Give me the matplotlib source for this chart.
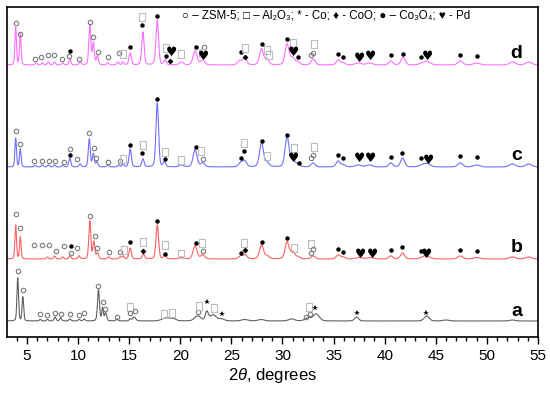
import numpy as np
import matplotlib
matplotlib.use("Agg")
import matplotlib.pyplot as plt
from matplotlib.ticker import MultipleLocator

plt.rcParams['font.family'] = ['Liberation Sans', 'DejaVu Sans']
plt.rcParams['mathtext.fontset'] = 'custom'
plt.rcParams['mathtext.rm'] = 'Liberation Sans'
plt.rcParams['mathtext.it'] = 'Liberation Sans:italic'

samples = ['a', 'b', 'c', 'd']
offsets = [16, 78, 170, 272]
colors = ['#606060', '#ff6060', '#7070ff', '#ff70ff']

# peaks: (2theta, height, half width)
peaks_a = [(4.1, 43, .08), (4.6, 24, .08), (6.3, 1.5, .1), (7.0, 1.5, .1), (7.75, 4, .1),
           (8.3, 3, .1), (9.2, 2, .1), (10.1, 1.5, .1), (10.6, 2, .1), (12.0, 31, .1),
           (12.4, 13, .08), (12.7, 8, .1), (13.8, 2, .1), (15.1, 2, .1), (15.5, 4, .15),
           (18.6, 3, .4), (19.3, 2, .3), (21.7, 5, .3), (22.6, 9, .15), (23.2, 6, .3),
           (24.0, 2, .3), (26.3, 1.5, .3), (27.9, 1.5, .3), (30.9, 2, .3), (32.5, 3, .3),
           (33.3, 7, .3), (37.25, 4, .2), (44.1, 5, .25), (46.0, 1, .3), (52.5, 1, .3)]
peaks_b = [(3.9, 34, .08), (4.35, 22, .08), (7.0, 2, .1), (7.7, 3, .1), (8.5, 2, .1),
           (9.2, 3, .1), (10.1, 3, .1), (11.15, 38, .1), (11.55, 17, .1), (11.9, 6, .1),
           (13.0, 2, .1), (14.1, 2, .1), (14.4, 3, .1), (15.1, 11, .12), (16.4, 5, .12),
           (17.75, 34, .13), (18.5, 4, .12), (20.1, 2, .2), (21.45, 13, .2), (22.2, 4, .2),
           (25.9, 3, .2), (26.35, 4, .2), (27.95, 14, .2), (28.5, 3, .2), (30.45, 17, .2),
           (31.0, 7, .2), (31.5, 2, .2), (33.0, 3, .2), (35.45, 4, .2), (35.95, 2, .2),
           (37.5, 1.5, .3), (38.6, 1.5, .3), (40.6, 3, .2), (41.75, 6, .2), (43.8, 2, .3),
           (44.2, 2, .3), (47.4, 3, .25), (49.0, 1.5, .3), (52.5, 2, .3), (54.1, 2, .3)]
peaks_c = [(3.9, 29, .08), (4.35, 18, .08), (5.8, 1.5, .1), (6.5, 2, .1), (7.1, 2, .1),
           (7.7, 2, .1), (8.5, 1.5, .1), (9.2, 9, .1), (10.2, 3, .1), (11.1, 28, .1),
           (11.5, 13, .1), (11.85, 5, .1), (12.9, 2, .1), (14.0, 2, .1), (14.4, 3, .1),
           (15.1, 18, .12), (16.35, 8, .12), (17.75, 64, .13), (18.45, 5, .12), (20.1, 2, .2),
           (21.45, 17, .2), (22.2, 4, .2), (25.9, 4, .2), (26.3, 6, .2), (27.95, 24, .2),
           (28.5, 4, .2), (30.45, 30, .2), (31.0, 7, .2), (31.5, 3, .2), (33.0, 4, .2),
           (35.45, 6, .2), (35.95, 2, .2), (37.4, 2, .3), (38.5, 2, .3), (40.6, 4, .2),
           (41.75, 9, .2), (43.7, 2, .3), (44.2, 3, .3), (47.4, 4, .25), (49.0, 2, .3),
           (52.5, 3, .3), (54.1, 3, .3)]
peaks_d = [(3.9, 38, .08), (4.35, 32, .08), (5.9, 2, .1), (6.5, 2, .1), (7.1, 3, .1),
           (7.7, 3, .1), (8.5, 2, .1), (9.2, 6, .1), (10.2, 3, .1), (11.15, 40, .1),
           (11.5, 22, .1), (11.9, 9, .1), (12.9, 2, .1), (13.9, 3, .1), (14.4, 3, .1),
           (15.1, 12, .12), (16.35, 33, .12), (17.75, 45, .13), (18.5, 5, .12), (20.1, 3, .2),
           (21.45, 14, .2), (22.2, 5, .2), (25.8, 4, .2), (26.3, 7, .2), (27.95, 16, .2),
           (28.5, 5, .2), (30.45, 21, .2), (31.0, 7, .2), (31.5, 3, .2), (33.0, 6, .2),
           (35.45, 5, .2), (35.95, 2, .2), (37.4, 2, .3), (38.5, 2, .3), (40.6, 4, .2),
           (41.8, 8, .2), (43.7, 2, .3), (44.2, 3, .3), (47.4, 4, .25), (49.0, 2, .3),
           (52.5, 3, .3), (54.1, 3, .3)]

# phase marks: (2theta, height above baseline, phase)
marks_a = [(4.1, 50, 'z'), (4.6, 31, 'z'), (6.3, 7, 'z'), (6.95, 6, 'z'), (7.75, 8, 'z'),
           (8.3, 7, 'z'), (9.2, 7, 'z'), (10.1, 6, 'z'), (10.6, 8, 'z'), (12.0, 35, 'z'),
           (12.4, 19, 'z'), (12.6, 12, 'z'), (13.8, 4, 'z'), (15.1, 14, 'al'), (15.1, 8, 'z'),
           (15.55, 10, 'z'), (18.45, 7, 'al'), (19.15, 8, 'al'), (21.7, 9, 'z'), (21.85, 15, 'al'),
           (22.6, 19, 'co'), (23.3, 13, 'al'), (24.1, 7, 'co'), (32.3, 4, 'z'), (32.7, 7, 'z'),
           (32.55, 14, 'al'), (33.2, 13, 'co'), (37.25, 8, 'co'), (44.05, 8, 'co')]
marks_b = [(3.9, 45, 'z'), (4.35, 31, 'z'), (5.7, 14, 'z'), (6.5, 14, 'z'), (7.2, 14, 'z'),
           (7.8, 8, 'z'), (8.6, 13, 'z'), (9.3, 13, 'c3'), (9.3, 6, 'z'), (9.9, 11, 'z'),
           (11.2, 43, 'z'), (11.65, 23, 'z'), (11.9, 11, 'z'), (13.0, 7, 'z'), (14.1, 7, 'z'),
           (14.5, 9, 'al'), (15.1, 17, 'c3'), (16.4, 17, 'al'), (16.4, 8, 'coo'), (17.7, 38, 'c3'),
           (18.5, 14, 'al'), (18.5, 5, 'c3'), (20.05, 5, 'al'), (21.5, 16, 'c3'), (22.1, 16, 'al'),
           (22.2, 8, 'z'), (26.2, 16, 'al'), (26.35, 9, 'coo'), (25.9, 6, 'c3'), (27.95, 17, 'c3'),
           (30.45, 21, 'c3'), (31.1, 11, 'al'), (32.75, 15, 'al'), (32.75, 6, 'z'), (32.95, 10, 'z'),
           (35.45, 10, 'c3'), (35.9, 7, 'c3'), (37.6, 5, 'pd'), (38.8, 5, 'pd'), (40.6, 9, 'c3'),
           (41.7, 12, 'c3'), (43.6, 8, 'c3'), (44.05, 5, 'pd'), (47.4, 9, 'c3'), (49.0, 8, 'c3')]
marks_c = [(3.9, 36, 'z'), (4.3, 23, 'z'), (5.7, 6, 'z'), (6.5, 6, 'z'), (7.15, 6, 'z'),
           (7.7, 6, 'z'), (8.6, 5, 'z'), (9.2, 18, 'z'), (9.2, 12, 'c3'), (9.9, 8, 'z'),
           (11.05, 34, 'z'), (11.55, 19, 'z'), (11.8, 9, 'z'), (12.95, 5, 'z'), (14.1, 6, 'z'),
           (14.35, 8, 'al'), (15.05, 22, 'c3'), (16.35, 22, 'al'), (16.3, 14, 'c3'), (17.75, 68, 'c3'),
           (18.5, 15, 'al'), (18.5, 8, 'c3'), (20.05, 7, 'al'), (21.5, 20, 'c3'), (22.0, 16, 'al'),
           (22.25, 8, 'z'), (26.2, 24, 'al'), (26.2, 16, 'c3'), (25.9, 9, 'c3'), (27.95, 26, 'c3'),
           (28.45, 11, 'al'), (30.45, 32, 'c3'), (31.1, 19, 'al'), (31.1, 9, 'pd'), (31.65, 4, 'c3'),
           (33.1, 20, 'al'), (32.95, 12, 'z'), (32.75, 9, 'z'), (35.45, 12, 'c3'), (35.9, 9, 'c3'),
           (37.5, 8, 'pd'), (38.6, 8, 'pd'), (40.6, 10, 'c3'), (41.7, 14, 'c3'), (43.6, 9, 'c3'),
           (44.25, 6, 'pd'), (47.4, 11, 'c3'), (49.0, 10, 'c3')]
marks_d = [(3.9, 42, 'z'), (4.3, 31, 'z'), (5.8, 6, 'z'), (6.4, 8, 'z'), (7.1, 10, 'z'),
           (7.65, 10, 'z'), (8.45, 6, 'z'), (9.15, 9, 'z'), (9.2, 14, 'c3'), (10.1, 6, 'z'),
           (11.2, 43, 'z'), (11.5, 28, 'z'), (11.95, 13, 'z'), (12.9, 8, 'z'), (14.0, 12, 'z'),
           (14.4, 11, 'al'), (15.1, 18, 'c3'), (16.3, 40, 'c3'), (16.3, 48, 'al'), (17.7, 49, 'c3'),
           (18.6, 17, 'al'), (18.6, 9, 'c3'), (19.15, 12, 'pd'), (18.95, 4, 'coo'), (20.1, 11, 'al'),
           (21.5, 18, 'c3'), (22.3, 18, 'z'), (22.1, 12, 'al'), (22.3, 8, 'pd'), (25.9, 13, 'c3'),
           (26.3, 8, 'coo'), (26.3, 17, 'al'), (27.95, 21, 'c3'), (28.45, 15, 'al'), (28.7, 10, 'al'),
           (30.45, 26, 'c3'), (31.05, 22, 'al'), (31.05, 13, 'pd'), (31.55, 8, 'c3'), (33.1, 21, 'al'),
           (32.95, 12, 'z'), (32.75, 10, 'z'), (35.45, 11, 'c3'), (35.9, 8, 'c3'), (37.5, 7, 'pd'),
           (38.6, 8, 'pd'), (40.6, 10, 'c3'), (41.8, 11, 'c3'), (43.6, 8, 'c3'), (44.2, 8, 'pd'),
           (47.4, 10, 'c3'), (49.0, 9, 'c3')]

all_peaks = [peaks_a, peaks_b, peaks_c, peaks_d]
all_marks = [marks_a, marks_b, marks_c, marks_d]
label_h = [9, 11, 12, 12]


def pattern(x, peaks):
    y = np.zeros_like(x)
    for p, h, w in peaks:
        u = (x - p) / (w * 1.15)
        y += h * (0.25 / (1 + u ** 2) + 0.75 * np.exp(-np.log(2) * u ** 2))
    return y


fig = plt.figure(figsize=(5.5, 3.95), dpi=100)
ax = fig.add_axes([7 / 550, 58 / 395, 531 / 550, 330 / 395])

x = np.linspace(3.05, 55, 4000)
for i in range(4):
    base = offsets[i]
    ax.plot(x, base + pattern(x, all_peaks[i]), color=colors[i], lw=0.8)
    for p, h, kind in all_marks[i]:
        yy = base + h
        if kind == 'z':
            ax.plot(p, yy, 'o', ms=3.2, mfc='none', mec='#7a7a7a', mew=0.8)
        elif kind == 'al':
            ax.plot(p, yy, marker=[(-0.35, -0.5), (0.35, -0.5), (0.35, 0.5), (-0.35, 0.5), (-0.35, -0.5)],
                    ms=6, mfc='none', mec='#bdbdbd', mew=0.8)
        elif kind == 'co':
            ax.plot(p, yy, '*', ms=4, color='black', mew=0)
        elif kind == 'coo':
            ax.plot(p, yy, 'D', ms=3, color='black', mew=0)
        elif kind == 'c3':
            ax.plot(p, yy, 'o', ms=3.2, color='black', mew=0)
        elif kind == 'pd':
            ax.text(p, yy, '\u2665', ha='center', va='center', fontsize=9,
                    family=['DejaVu Sans'])
    ax.text(52.9, base + label_h[i], samples[i], ha='center', va='center',
            fontsize=14, fontweight='bold')

ax.text(0.33, 0.973, '\u25cb \u2013 ZSM-5; \u25a1 \u2013 Al\u2082O\u2083; * - Co; \u2666 - CoO; '
        '\u25cf \u2013 Co\u2083O\u2084; \u2665 - Pd', transform=ax.transAxes,
        ha='left', va='center', fontsize=8.3)

ax.set_xlim(3.05, 55)
ax.set_ylim(0, 330)
ax.xaxis.set_major_locator(MultipleLocator(5))
ax.xaxis.set_minor_locator(MultipleLocator(1))
ax.tick_params(axis='x', which='major', direction='out', length=5, width=1, labelsize=11)
ax.tick_params(axis='x', which='minor', direction='out', length=3, width=1)
ax.set_yticks([])
for s in ax.spines.values():
    s.set_linewidth(1.2)
ax.set_xlabel(r'$\mathit{2\theta}$, degrees', fontsize=12, labelpad=2)

fig.savefig('out.png', dpi=100)
